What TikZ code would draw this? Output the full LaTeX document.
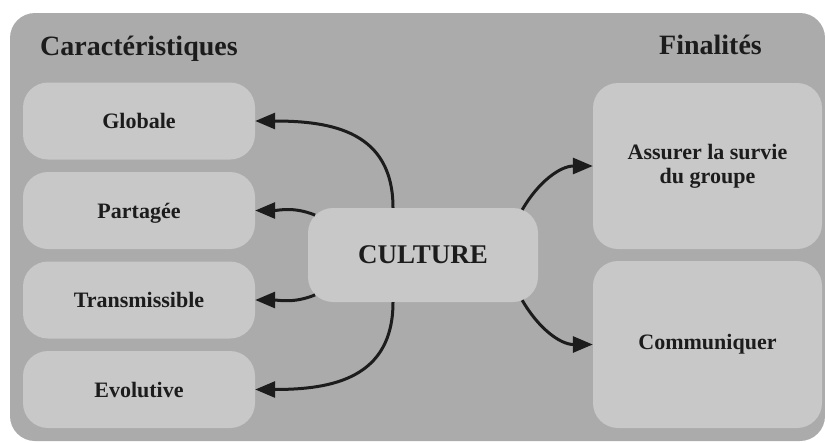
\documentclass[tikz,border=0pt]{standalone}
\usepackage{fontspec}
\setmainfont{Liberation Serif}
\usetikzlibrary{arrows.meta}
\definecolor{fond}{HTML}{ABABAB}
\definecolor{boite}{HTML}{C8C8C8}
\definecolor{encre}{HTML}{1C1C1C}
\begin{document}
\begin{tikzpicture}[x=1pt,y=-1pt,
    box/.style={fill=boite,rounded corners=25pt,inner sep=0pt,text=encre,
      font=\fontsize{22}{24}\selectfont\bfseries,align=center},
    leftbox/.style={box,minimum width=232pt,minimum height=77pt,text height=16pt,text depth=1pt},
    rightbox/.style={box,minimum width=229pt,minimum height=167pt},
    title/.style={text=encre,font=\fontsize{28}{30}\selectfont\bfseries,inner sep=0pt,anchor=base west},
    link/.style={draw=encre,line width=3pt,-{Triangle[length=20pt,width=16pt]}}]
      \useasboundingbox (0,0) rectangle (825,442);
      \fill[fond,rounded corners=25pt] (10,13) rectangle (825,441);
      \path
        (40,55) node[title] (carac){Caractéristiques}
        (659,54) node[title] (final){Finalités}
        (139,121) node[leftbox] (globale){Globale}
        (139,210.5) node[leftbox] (partagee){Partagée}
        (139,300) node[leftbox] (transmis){Transmissible}
        (139,389.5) node[leftbox] (evolutive){Evolutive}
        (423,255) node[box,minimum width=230pt,minimum height=94pt,
          font=\fontsize{27}{30}\selectfont\bfseries] (culture){CULTURE}
        (707.5,166) node[rightbox,minimum height=166pt] (survie){Assurer la survie\\du groupe}
        (707.5,344.5) node[rightbox] (commun){Communiquer};
      \begin{scope}[link]
        \draw ([xshift=-30pt]culture.north) to[out=90,in=0,looseness=1.2] (globale.east);
        \draw ([xshift=7.3pt,yshift=-7.3pt]culture.north west) to[out=158,in=0] (partagee.east);
        \draw ([xshift=7.3pt,yshift=7.3pt]culture.south west) to[out=-158,in=0] (transmis.east);
        \draw ([xshift=-30pt]culture.south) to[out=-90,in=0,looseness=1.2] (evolutive.east);
        \draw ([xshift=-16pt,yshift=-2pt]culture.north east) to[out=60,in=180] (survie.west);
        \draw ([xshift=-16pt,yshift=2pt]culture.south east) to[out=-60,in=180] (commun.west);
      \end{scope}
    \end{tikzpicture}
\end{document}
